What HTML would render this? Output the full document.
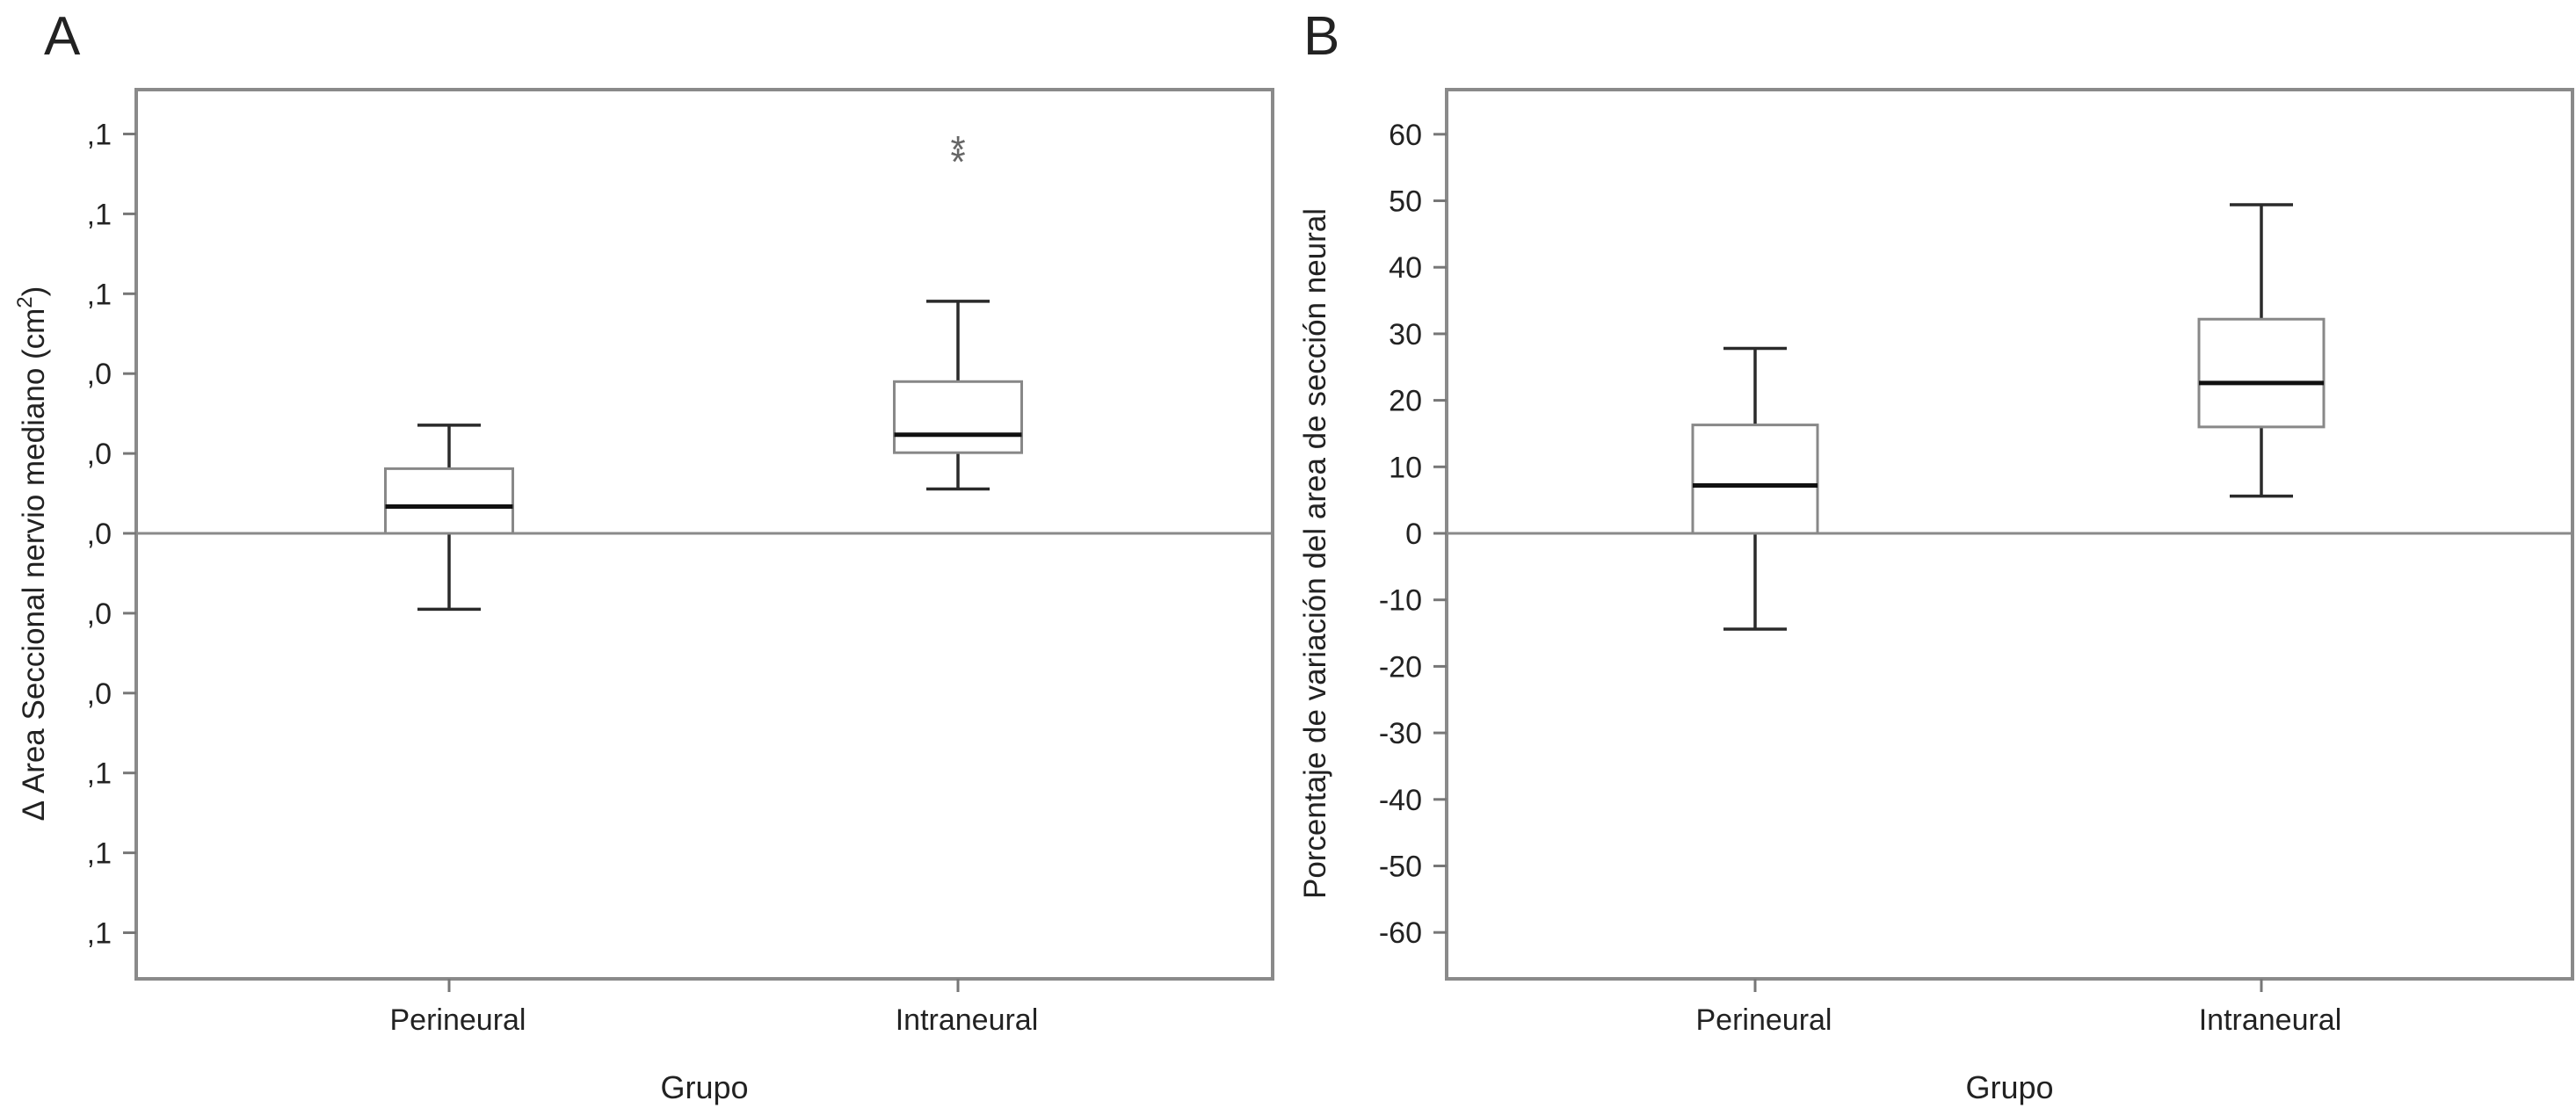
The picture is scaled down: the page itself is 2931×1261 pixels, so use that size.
<!DOCTYPE html>
<html><head><meta charset="utf-8"><style>
html,body{margin:0;padding:0;background:#fff;}
svg{display:block;font-family:"Liberation Sans",sans-serif;}
</style></head><body>
<svg id="chart" width="2931" height="1261" viewBox="0 0 2931 1261" xmlns="http://www.w3.org/2000/svg">
<text x="50" y="62" font-size="62" fill="#222">A</text>
<text x="1483" y="62" font-size="62" fill="#222">B</text>
<g id="pa"></g>
<g id="pb"></g>
</svg>
<script>
const categories = ["Perineural", "Intraneural"];
const aTickValues = [0.10,0.08,0.06,0.04,0.02,0,-0.02,-0.04,-0.06,-0.08,-0.10];
const aTickLabels = [",1",",1",",1",",0",",0",",0",",0",",0",",1",",1",",1"];
const aWhiskerLow = [-0.019, 0.0111];
const aQ1 = [0, 0.0202];
const aMedian = [0.0067, 0.0247];
const aQ3 = [0.0162, 0.038];
const aWhiskerHigh = [0.0271, 0.0581];
const aOutliers = [[], [0.0977, 0.0946]];
const bTickValues = [60,50,40,30,20,10,0,-10,-20,-30,-40,-50,-60];
const bTickLabels = ["60","50","40","30","20","10","0","-10","-20","-30","-40","-50","-60"];
const bWhiskerLow = [-14.4, 5.6];
const bQ1 = [0, 16.0];
const bMedian = [7.2, 22.6];
const bQ3 = [16.3, 32.2];
const bWhiskerHigh = [27.8, 49.4];
const bOutliers = [[], []];

const NS = "http://www.w3.org/2000/svg";
function mk(parent, tag, attrs, text){
  const e = document.createElementNS(NS, tag);
  for (const k in attrs) e.setAttribute(k, attrs[k]);
  if (text !== undefined) e.textContent = text;
  parent.appendChild(e);
  return e;
}
function panel(g, cfg){
  const L=cfg.left, R=cfg.right, T=102, B=1114, y0=607, per=cfg.per, unit=cfg.unit;
  const y = v => y0 - v/unit*per;
  const x = i => L + (R-L)*cfg.xfrac[i];
  const frame = mk(g,"rect",{x:L,y:T,width:R-L,height:B-T,fill:"none",stroke:"#8a8a8a","stroke-width":4});
  
  
  const zl = mk(g,"line",{x1:L,x2:R,y1:y(0),y2:y(0),stroke:"#8a8a8a","stroke-width":3});
  
  
  cfg.ticks.forEach((v,i)=>{
    const t = mk(g,"line",{x1:L-15,x2:L,y1:y(v),y2:y(v),stroke:"#777","stroke-width":3});
    
    
    const lb = mk(g,"text",{x:L-28,y:y(v)+12,"font-size":34,"text-anchor":"end",fill:"#222"},cfg.labels[i]);
    
    
  });
  categories.forEach((c,i)=>{
    const cx = x(i), hw = cfg.boxW/2, cw = 36;
    const t = mk(g,"line",{x1:cx,x2:cx,y1:B,y2:B+15,stroke:"#777","stroke-width":3});
    
    
    const lb = mk(g,"text",{x:cx+10,y:1172,"font-size":34,"text-anchor":"middle",fill:"#222"},c);
    
    
    const w1 = mk(g,"line",{x1:cx,x2:cx,y1:y(cfg.wl[i]),y2:y(cfg.q1[i]),stroke:"#2a2a2a","stroke-width":3.5});
    
    
    const w2 = mk(g,"line",{x1:cx,x2:cx,y1:y(cfg.q3[i]),y2:y(cfg.wh[i]),stroke:"#2a2a2a","stroke-width":3.5});
    
    
    const c1 = mk(g,"line",{x1:cx-cw,x2:cx+cw,y1:y(cfg.wl[i]),y2:y(cfg.wl[i]),stroke:"#2a2a2a","stroke-width":3.5});
    
    
    const c2 = mk(g,"line",{x1:cx-cw,x2:cx+cw,y1:y(cfg.wh[i]),y2:y(cfg.wh[i]),stroke:"#2a2a2a","stroke-width":3.5});
    
    
    const bx = mk(g,"rect",{x:cx-hw,y:y(cfg.q3[i]),width:cfg.boxW,height:y(cfg.q1[i])-y(cfg.q3[i]),fill:"#fff",stroke:"#888","stroke-width":3});
    
    
    const md = mk(g,"line",{x1:cx-hw,x2:cx+hw,y1:y(cfg.md[i]),y2:y(cfg.md[i]),stroke:"#111","stroke-width":5});
    
    
    cfg.out[i].forEach(v=>{
      const o = mk(g,"text",{x:cx,y:y(v)+22,"font-size":44,"text-anchor":"middle",fill:"#666"},"*");
      
      
    });
  });
  const gx = (L+R)/2;
  const xt = mk(g,"text",{x:gx,y:1250,"font-size":36,"text-anchor":"middle",fill:"#222"},"Grupo");
  
  
  const yt = mk(g,"text",{x:cfg.titleX,y:630,"font-size":35,"text-anchor":"middle",fill:"#222",transform:"rotate(-90 "+cfg.titleX+" 630)"});
  
  
  cfg.title(yt);
}
panel(document.getElementById("pa"),{left:155,right:1448,per:90.9,unit:0.02,xfrac:[(511-155)/1293,(1090-155)/1293],boxW:145,
  ticks:aTickValues,labels:aTickLabels,wl:aWhiskerLow,q1:aQ1,md:aMedian,q3:aQ3,wh:aWhiskerHigh,out:aOutliers,titleX:50,
  title:t=>{t.textContent="Δ Area Seccional nervio mediano (cm";const s=document.createElementNS(NS,"tspan");s.setAttribute("dy","-14");s.setAttribute("font-size","24");s.textContent="2";t.appendChild(s);const e=document.createElementNS(NS,"tspan");e.setAttribute("dy","14");e.textContent=")";t.appendChild(e);}});
panel(document.getElementById("pb"),{left:1646,right:2927,per:75.7,unit:10,xfrac:[(1997-1646)/1281,(2573-1646)/1281],boxW:142,
  ticks:bTickValues,labels:bTickLabels,wl:bWhiskerLow,q1:bQ1,md:bMedian,q3:bQ3,wh:bWhiskerHigh,out:bOutliers,titleX:1508,
  title:t=>{t.textContent="Porcentaje de variación del area de sección neural";}});
</script>
</body></html>
